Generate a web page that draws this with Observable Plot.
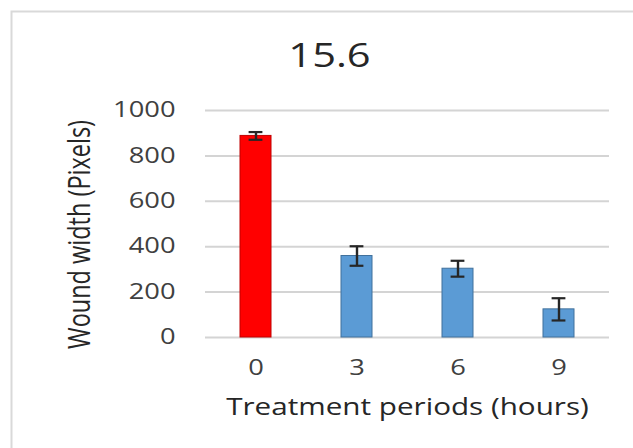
<!DOCTYPE html>
<html>
<head>
<meta charset="utf-8">
<script src="https://cdn.jsdelivr.net/npm/d3@7"></script>
<script src="https://cdn.jsdelivr.net/npm/@observablehq/plot@0.6"></script>
<style>
  html, body { margin: 0; padding: 0; background: #ffffff; }
  #chart { width: 633px; height: 448px; overflow: hidden; }
</style>
</head>
<body>
<div id="chart"></div>
<script>
// Wound width at each treatment period (mean ± error)
const chartTitle = "15.6";
const periods = ["0", "3", "6", "9"];
const woundWidth = [888, 359, 303, 124];
const woundError = [17, 43, 35, 49];
const barFill = ["#ff0000", "#5b9bd5", "#5b9bd5", "#5b9bd5"];
const barEdge = ["#c00000", "#41719c", "#41719c", "#41719c"];
const yTicks = [0, 200, 400, 600, 800, 1000];
const xTitle = "Treatment periods (hours)";
const yTitle = "Wound width (Pixels)";

const rows = periods.map((p, i) => ({
  period: p,
  width: woundWidth[i],
  err: woundError[i],
  fill: barFill[i],
  edge: barEdge[i]
}));

const chart = Plot.plot({
  width: 633,
  height: 448,
  marginLeft: 205,
  marginRight: 24,
  marginTop: 110,
  marginBottom: 111,
  style: { fontFamily: "'Open Sans', sans-serif", background: "#ffffff", overflow: "visible" },
  x: { domain: periods, paddingInner: 0.69, paddingOuter: 0.345, label: null },
  y: { domain: [0, 1000], label: null },
  marks: [
    // outer chart border (only its left and top edges fall inside the window)
    Plot.frame({ stroke: "#d9d9d9", strokeWidth: 2, insetLeft: -194, insetTop: -99, insetRight: -300, insetBottom: -300 }),
    Plot.ruleY(yTicks, { stroke: "#d4d4d4", strokeWidth: 2 }),
    Plot.barY(rows, { x: "period", y: "width", fill: "fill", stroke: "edge", strokeWidth: 1 }),
    Plot.ruleX(rows, { x: "period", y1: d => d.width - d.err, y2: d => d.width + d.err, stroke: "#262626", strokeWidth: 2.4 }),
    Plot.tickY(rows, { x: "period", y: d => d.width + d.err, stroke: "#262626", strokeWidth: 2.2, insetLeft: 8.6, insetRight: 8.6 }),
    Plot.tickY(rows, { x: "period", y: d => d.width - d.err, stroke: "#262626", strokeWidth: 2.2, insetLeft: 8.6, insetRight: 8.6 }),
    Plot.axisY({ ticks: yTicks, tickFormat: d => String(d), tickSize: 0, tickPadding: 30, fontSize: 21, color: "#404040", label: null }),
    Plot.axisX({ tickSize: 0, tickPadding: 23, fontSize: 21, color: "#404040", label: null }),
    Plot.text([chartTitle], { frameAnchor: "top", textAnchor: "middle", lineAnchor: "middle", dx: -78, dy: -53.5, fontSize: 32, fill: "#262626" }),
    Plot.text([xTitle], { frameAnchor: "bottom", textAnchor: "middle", lineAnchor: "middle", dx: 0, dy: 70, fontSize: 22.8, fill: "#262626" }),
    Plot.text([yTitle], { frameAnchor: "left", textAnchor: "middle", lineAnchor: "middle", rotate: -90, dx: -125, dy: 10.5, fontSize: 23.5, fill: "#262626" })
  ]
});

document.getElementById("chart").append(chart);

// The lettering is drawn wide: stretch every label horizontally.
const STRETCH = 1.3;
chart.querySelectorAll("text").forEach(t => {
  const tr = t.getAttribute("transform") || "";
  if (tr.includes("rotate")) {
    t.setAttribute("transform", tr + " scale(1," + STRETCH + ")");
    return;
  }
  const len = t.getComputedTextLength();
  if (len > 0) {
    t.setAttribute("textLength", (len * STRETCH).toFixed(2));
    t.setAttribute("lengthAdjust", "spacingAndGlyphs");
  }
});
</script>
</body>
</html>
